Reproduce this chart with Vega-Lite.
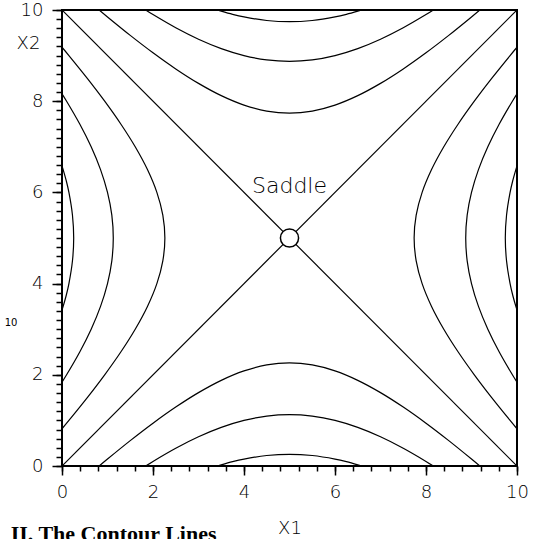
{
  "$schema": "https://vega.github.io/schema/vega-lite/v6.json",
  "width": 455,
  "height": 456,
  "autosize": {"type": "none"},
  "padding": {"left": 62, "top": 10, "right": 23, "bottom": 73},
  "background": "white",
  "config": {
    "view": {"stroke": "#000", "strokeWidth": 2},
    "axis": {
      "domain": false, "grid": false, "tickColor": "#000", "tickWidth": 1.5, "labelFlush": false,
      "labelColor": "#000", "labelFont": "DejaVu Sans", "labelFontWeight": 200, "labelFontSize": 18,
      "titleColor": "#000", "titleFont": "DejaVu Sans", "titleFontWeight": 200, "titleFontSize": 18
    }
  },
  "title": {
    "text": "II. The Contour Lines", "orient": "bottom", "anchor": "start",
    "font": "Liberation Serif", "fontWeight": "bold", "fontSize": 22, "color": "#000",
    "dx": 6, "offset": -13
  },
  "datasets": {
    "c": [
      {"k":"a7","o":0,"x":0,"y":0.817},{"k":"a7","o":1,"x":0.152,"y":1},{"k":"a7","o":2,"x":0.556,"y":1.5},{"k":"a7","o":3,"x":0.938,"y":2},{"k":"a7","o":4,"x":1.292,"y":2.5},{"k":"a7","o":5,"x":1.609,"y":3},{"k":"a7","o":6,"x":1.878,"y":3.5},{"k":"a7","o":7,"x":2.085,"y":4},{"k":"a7","o":8,"x":2.216,"y":4.5},{"k":"a7","o":9,"x":2.261,"y":5},{"k":"a7","o":10,"x":2.216,"y":5.5},{"k":"a7","o":11,"x":2.085,"y":6},{"k":"a7","o":12,"x":1.878,"y":6.5},{"k":"a7","o":13,"x":1.609,"y":7},{"k":"a7","o":14,"x":1.292,"y":7.5},{"k":"a7","o":15,"x":0.938,"y":8},{"k":"a7","o":16,"x":0.556,"y":8.5},{"k":"a7","o":17,"x":0.152,"y":9},{"k":"a7","o":18,"x":0,"y":9.183},
      {"k":"b7","o":0,"x":10,"y":0.817},{"k":"b7","o":1,"x":9.848,"y":1},{"k":"b7","o":2,"x":9.444,"y":1.5},{"k":"b7","o":3,"x":9.062,"y":2},{"k":"b7","o":4,"x":8.708,"y":2.5},{"k":"b7","o":5,"x":8.391,"y":3},{"k":"b7","o":6,"x":8.122,"y":3.5},{"k":"b7","o":7,"x":7.915,"y":4},{"k":"b7","o":8,"x":7.784,"y":4.5},{"k":"b7","o":9,"x":7.739,"y":5},{"k":"b7","o":10,"x":7.784,"y":5.5},{"k":"b7","o":11,"x":7.915,"y":6},{"k":"b7","o":12,"x":8.122,"y":6.5},{"k":"b7","o":13,"x":8.391,"y":7},{"k":"b7","o":14,"x":8.708,"y":7.5},{"k":"b7","o":15,"x":9.062,"y":8},{"k":"b7","o":16,"x":9.444,"y":8.5},{"k":"b7","o":17,"x":9.848,"y":9},{"k":"b7","o":18,"x":10,"y":9.183},
      {"k":"c7","o":0,"x":0.817,"y":0},{"k":"c7","o":1,"x":1,"y":0.152},{"k":"c7","o":2,"x":1.5,"y":0.556},{"k":"c7","o":3,"x":2,"y":0.938},{"k":"c7","o":4,"x":2.5,"y":1.292},{"k":"c7","o":5,"x":3,"y":1.609},{"k":"c7","o":6,"x":3.5,"y":1.878},{"k":"c7","o":7,"x":4,"y":2.085},{"k":"c7","o":8,"x":4.5,"y":2.216},{"k":"c7","o":9,"x":5,"y":2.261},{"k":"c7","o":10,"x":5.5,"y":2.216},{"k":"c7","o":11,"x":6,"y":2.085},{"k":"c7","o":12,"x":6.5,"y":1.878},{"k":"c7","o":13,"x":7,"y":1.609},{"k":"c7","o":14,"x":7.5,"y":1.292},{"k":"c7","o":15,"x":8,"y":0.938},{"k":"c7","o":16,"x":8.5,"y":0.556},{"k":"c7","o":17,"x":9,"y":0.152},{"k":"c7","o":18,"x":9.183,"y":0},
      {"k":"d7","o":0,"x":0.817,"y":10},{"k":"d7","o":1,"x":1,"y":9.848},{"k":"d7","o":2,"x":1.5,"y":9.444},{"k":"d7","o":3,"x":2,"y":9.062},{"k":"d7","o":4,"x":2.5,"y":8.708},{"k":"d7","o":5,"x":3,"y":8.391},{"k":"d7","o":6,"x":3.5,"y":8.122},{"k":"d7","o":7,"x":4,"y":7.915},{"k":"d7","o":8,"x":4.5,"y":7.784},{"k":"d7","o":9,"x":5,"y":7.739},{"k":"d7","o":10,"x":5.5,"y":7.784},{"k":"d7","o":11,"x":6,"y":7.915},{"k":"d7","o":12,"x":6.5,"y":8.122},{"k":"d7","o":13,"x":7,"y":8.391},{"k":"d7","o":14,"x":7.5,"y":8.708},{"k":"d7","o":15,"x":8,"y":9.062},{"k":"d7","o":16,"x":8.5,"y":9.444},{"k":"d7","o":17,"x":9,"y":9.848},{"k":"d7","o":18,"x":9.183,"y":10},
      {"k":"a15","o":0,"x":0,"y":1.838},{"k":"a15","o":1,"x":0.101,"y":2},{"k":"a15","o":2,"x":0.39,"y":2.5},{"k":"a15","o":3,"x":0.641,"y":3},{"k":"a15","o":4,"x":0.847,"y":3.5},{"k":"a15","o":5,"x":1,"y":4},{"k":"a15","o":6,"x":1.095,"y":4.5},{"k":"a15","o":7,"x":1.127,"y":5},{"k":"a15","o":8,"x":1.095,"y":5.5},{"k":"a15","o":9,"x":1,"y":6},{"k":"a15","o":10,"x":0.847,"y":6.5},{"k":"a15","o":11,"x":0.641,"y":7},{"k":"a15","o":12,"x":0.39,"y":7.5},{"k":"a15","o":13,"x":0.101,"y":8},{"k":"a15","o":14,"x":0,"y":8.162},
      {"k":"b15","o":0,"x":10,"y":1.838},{"k":"b15","o":1,"x":9.899,"y":2},{"k":"b15","o":2,"x":9.61,"y":2.5},{"k":"b15","o":3,"x":9.359,"y":3},{"k":"b15","o":4,"x":9.153,"y":3.5},{"k":"b15","o":5,"x":9,"y":4},{"k":"b15","o":6,"x":8.905,"y":4.5},{"k":"b15","o":7,"x":8.873,"y":5},{"k":"b15","o":8,"x":8.905,"y":5.5},{"k":"b15","o":9,"x":9,"y":6},{"k":"b15","o":10,"x":9.153,"y":6.5},{"k":"b15","o":11,"x":9.359,"y":7},{"k":"b15","o":12,"x":9.61,"y":7.5},{"k":"b15","o":13,"x":9.899,"y":8},{"k":"b15","o":14,"x":10,"y":8.162},
      {"k":"c15","o":0,"x":1.838,"y":0},{"k":"c15","o":1,"x":2,"y":0.101},{"k":"c15","o":2,"x":2.5,"y":0.39},{"k":"c15","o":3,"x":3,"y":0.641},{"k":"c15","o":4,"x":3.5,"y":0.847},{"k":"c15","o":5,"x":4,"y":1},{"k":"c15","o":6,"x":4.5,"y":1.095},{"k":"c15","o":7,"x":5,"y":1.127},{"k":"c15","o":8,"x":5.5,"y":1.095},{"k":"c15","o":9,"x":6,"y":1},{"k":"c15","o":10,"x":6.5,"y":0.847},{"k":"c15","o":11,"x":7,"y":0.641},{"k":"c15","o":12,"x":7.5,"y":0.39},{"k":"c15","o":13,"x":8,"y":0.101},{"k":"c15","o":14,"x":8.162,"y":0},
      {"k":"d15","o":0,"x":1.838,"y":10},{"k":"d15","o":1,"x":2,"y":9.899},{"k":"d15","o":2,"x":2.5,"y":9.61},{"k":"d15","o":3,"x":3,"y":9.359},{"k":"d15","o":4,"x":3.5,"y":9.153},{"k":"d15","o":5,"x":4,"y":9},{"k":"d15","o":6,"x":4.5,"y":8.905},{"k":"d15","o":7,"x":5,"y":8.873},{"k":"d15","o":8,"x":5.5,"y":8.905},{"k":"d15","o":9,"x":6,"y":9},{"k":"d15","o":10,"x":6.5,"y":9.153},{"k":"d15","o":11,"x":7,"y":9.359},{"k":"d15","o":12,"x":7.5,"y":9.61},{"k":"d15","o":13,"x":8,"y":9.899},{"k":"d15","o":14,"x":8.162,"y":10},
      {"k":"a22","o":0,"x":0,"y":3.419},{"k":"a22","o":1,"x":0.025,"y":3.5},{"k":"a22","o":2,"x":0.095,"y":3.75},{"k":"a22","o":3,"x":0.152,"y":4},{"k":"a22","o":4,"x":0.23,"y":4.5},{"k":"a22","o":5,"x":0.257,"y":5},{"k":"a22","o":6,"x":0.23,"y":5.5},{"k":"a22","o":7,"x":0.152,"y":6},{"k":"a22","o":8,"x":0.095,"y":6.25},{"k":"a22","o":9,"x":0.025,"y":6.5},{"k":"a22","o":10,"x":0,"y":6.581},
      {"k":"b22","o":0,"x":10,"y":3.419},{"k":"b22","o":1,"x":9.975,"y":3.5},{"k":"b22","o":2,"x":9.905,"y":3.75},{"k":"b22","o":3,"x":9.848,"y":4},{"k":"b22","o":4,"x":9.77,"y":4.5},{"k":"b22","o":5,"x":9.743,"y":5},{"k":"b22","o":6,"x":9.77,"y":5.5},{"k":"b22","o":7,"x":9.848,"y":6},{"k":"b22","o":8,"x":9.905,"y":6.25},{"k":"b22","o":9,"x":9.975,"y":6.5},{"k":"b22","o":10,"x":10,"y":6.581},
      {"k":"c22","o":0,"x":3.419,"y":0},{"k":"c22","o":1,"x":3.5,"y":0.025},{"k":"c22","o":2,"x":3.75,"y":0.095},{"k":"c22","o":3,"x":4,"y":0.152},{"k":"c22","o":4,"x":4.5,"y":0.23},{"k":"c22","o":5,"x":5,"y":0.257},{"k":"c22","o":6,"x":5.5,"y":0.23},{"k":"c22","o":7,"x":6,"y":0.152},{"k":"c22","o":8,"x":6.25,"y":0.095},{"k":"c22","o":9,"x":6.5,"y":0.025},{"k":"c22","o":10,"x":6.581,"y":0},
      {"k":"d22","o":0,"x":3.419,"y":10},{"k":"d22","o":1,"x":3.5,"y":9.975},{"k":"d22","o":2,"x":3.75,"y":9.905},{"k":"d22","o":3,"x":4,"y":9.848},{"k":"d22","o":4,"x":4.5,"y":9.77},{"k":"d22","o":5,"x":5,"y":9.743},{"k":"d22","o":6,"x":5.5,"y":9.77},{"k":"d22","o":7,"x":6,"y":9.848},{"k":"d22","o":8,"x":6.25,"y":9.905},{"k":"d22","o":9,"x":6.5,"y":9.975},{"k":"d22","o":10,"x":6.581,"y":10},
      {"k":"e0","o":0,"x":0,"y":0},{"k":"e0","o":1,"x":10,"y":10},
      {"k":"f0","o":0,"x":0,"y":10},{"k":"f0","o":1,"x":10,"y":0}
    ]
  },
  "layer": [
    {
      "data": {"name": "c"},
      "mark": {"type": "line", "color": "#000", "strokeWidth": 1.2, "interpolate": "catmull-rom", "clip": true},
      "encoding": {
        "x": {"field": "x", "type": "quantitative", "scale": {"domain": [0, 10], "nice": false, "zero": false},
              "axis": {"orient": "bottom", "values": [0, 2, 4, 6, 8, 10], "tickSize": 9, "labelPadding": 8, "title": "X1", "titlePadding": 18}},
        "y": {"field": "y", "type": "quantitative", "scale": {"domain": [0, 10], "nice": false, "zero": false},
              "axis": {"orient": "left", "values": [0, 2, 4, 6, 8, 10], "tickSize": 10, "labelPadding": 9, "title": "X2",
                       "titleAngle": 0, "titleX": -34, "titleY": 33, "titleAlign": "center", "titleBaseline": "middle"}},
        "detail": {"field": "k"},
        "order": {"field": "o", "type": "quantitative"}
      }
    },
    {
      "data": {"values": [{"x": 5, "y": 5}]},
      "mark": {"type": "point", "shape": "circle", "size": 330, "filled": true, "fill": "#fff", "stroke": "#000", "strokeWidth": 1.5, "opacity": 1},
      "encoding": {
        "x": {"field": "x", "type": "quantitative", "scale": {"domain": [0, 10], "nice": false, "zero": false},
              "axis": {"orient": "bottom", "values": [0,0.4,0.8,1.2,1.6,2,2.4,2.8,3.2,3.6,4,4.4,4.8,5.2,5.6,6,6.4,6.8,7.2,7.6,8,8.4,8.8,9.2,9.6,10], "tickSize": 5, "labels": false, "title": null}},
        "y": {"field": "y", "type": "quantitative", "scale": {"domain": [0, 10], "nice": false, "zero": false},
              "axis": {"orient": "left", "values": [0,0.2,0.4,0.6,0.8,1,1.2,1.4,1.6,1.8,2,2.2,2.4,2.6,2.8,3,3.2,3.4,3.6,3.8,4,4.2,4.4,4.6,4.8,5,5.2,5.4,5.6,5.8,6,6.2,6.4,6.6,6.8,7,7.2,7.4,7.6,7.8,8,8.2,8.4,8.6,8.8,9,9.2,9.4,9.6,9.8,10], "tickSize": 6, "labels": false, "title": null}}
      }
    },
    {
      "data": {"values": [{"x": 5, "y": 6.15, "t": "Saddle"}]},
      "mark": {"type": "text", "font": "DejaVu Sans", "fontWeight": 200, "fontSize": 22, "fill": "#000", "align": "center", "baseline": "middle", "clip": false},
      "encoding": {
        "x": {"field": "x", "type": "quantitative", "scale": {"domain": [0, 10], "nice": false, "zero": false}, "axis": null},
        "y": {"field": "y", "type": "quantitative", "scale": {"domain": [0, 10], "nice": false, "zero": false}, "axis": null},
        "text": {"field": "t"},
        "color": {"value": "#000"}
      }
    },
    {
      "data": {"values": [{"x": -1.12, "y": 3.14, "t": "10"}]},
      "mark": {"type": "text", "font": "DejaVu Sans", "fontWeight": "normal", "fontSize": 10, "fill": "#000", "align": "center", "baseline": "middle", "clip": false},
      "encoding": {
        "x": {"field": "x", "type": "quantitative", "scale": {"domain": [0, 10], "nice": false, "zero": false}, "axis": null},
        "y": {"field": "y", "type": "quantitative", "scale": {"domain": [0, 10], "nice": false, "zero": false}, "axis": null},
        "text": {"field": "t"},
        "color": {"value": "#000"}
      }
    }
  ],
  "resolve": {"axis": {"x": "independent", "y": "independent"}}
}
